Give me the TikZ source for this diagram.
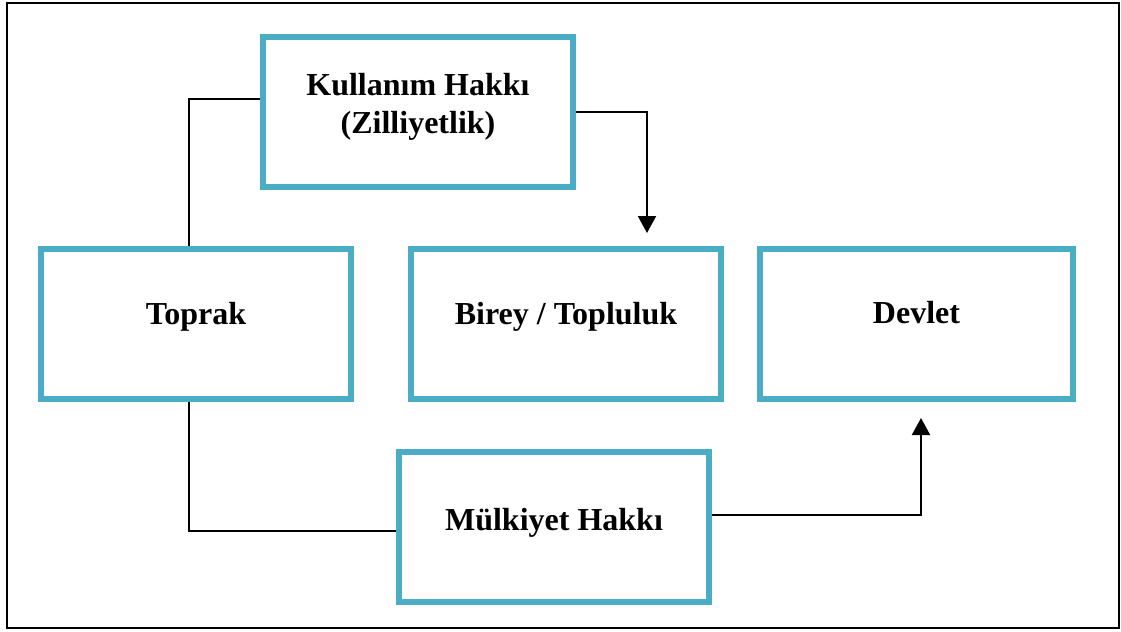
\documentclass[tikz,border=0pt]{standalone}
\usepackage{fontspec}
\setmainfont{Liberation Serif}
\usetikzlibrary{arrows.meta}
\definecolor{kutu}{HTML}{4BACC6}

\begin{document}
\begin{tikzpicture}[x=0.5pt, y=-0.5pt,
		kutu/.style={draw=kutu, line width=3pt, minimum width=155pt, minimum height=75pt,
			align=center, text height=8pt, text depth=8pt,
			font=\fontsize{16}{19}\selectfont\bfseries},
		bag/.style={black, line width=1pt},
		ok/.style={bag, -{Triangle[width=9pt,length=8.5pt]}}]
				\useasboundingbox (0,0) rectangle (1121,632);
				\draw[line width=1pt] (7,3) rectangle (1119,628);
				\node[kutu, text height=30pt, text depth=9pt] (kullanim) at (418,112) {Kullanım Hakkı\\(Zilliyetlik)};
				\node[kutu] (toprak) at (196,324) {Toprak};
				\node[kutu] (birey) at (566,324) {Birey / Topluluk};
				\node[kutu, minimum width=156.5pt, text height=7.5pt, text depth=8.5pt] (devlet) at (916.5,324) {Devlet};
				\node[kutu, text height=10pt, text depth=6.5pt] (mulkiyet) at (554,526.5) {Mülkiyet Hakkı};
				\draw[bag] ([yshift=6.5pt]kullanim.west) -| ([xshift=-3.5pt]toprak.north);
				\draw[bag] ([xshift=-3.5pt]toprak.south) |- ([yshift=-2.25pt]mulkiyet.west);
				\draw[ok] (kullanim.east) -| ([xshift=40.5pt,yshift=6.5pt]birey.north);
				\draw[ok] ([yshift=5.75pt]mulkiyet.east) -| ([xshift=2.25pt,yshift=-8pt]devlet.south);
			\end{tikzpicture}
\end{document}
